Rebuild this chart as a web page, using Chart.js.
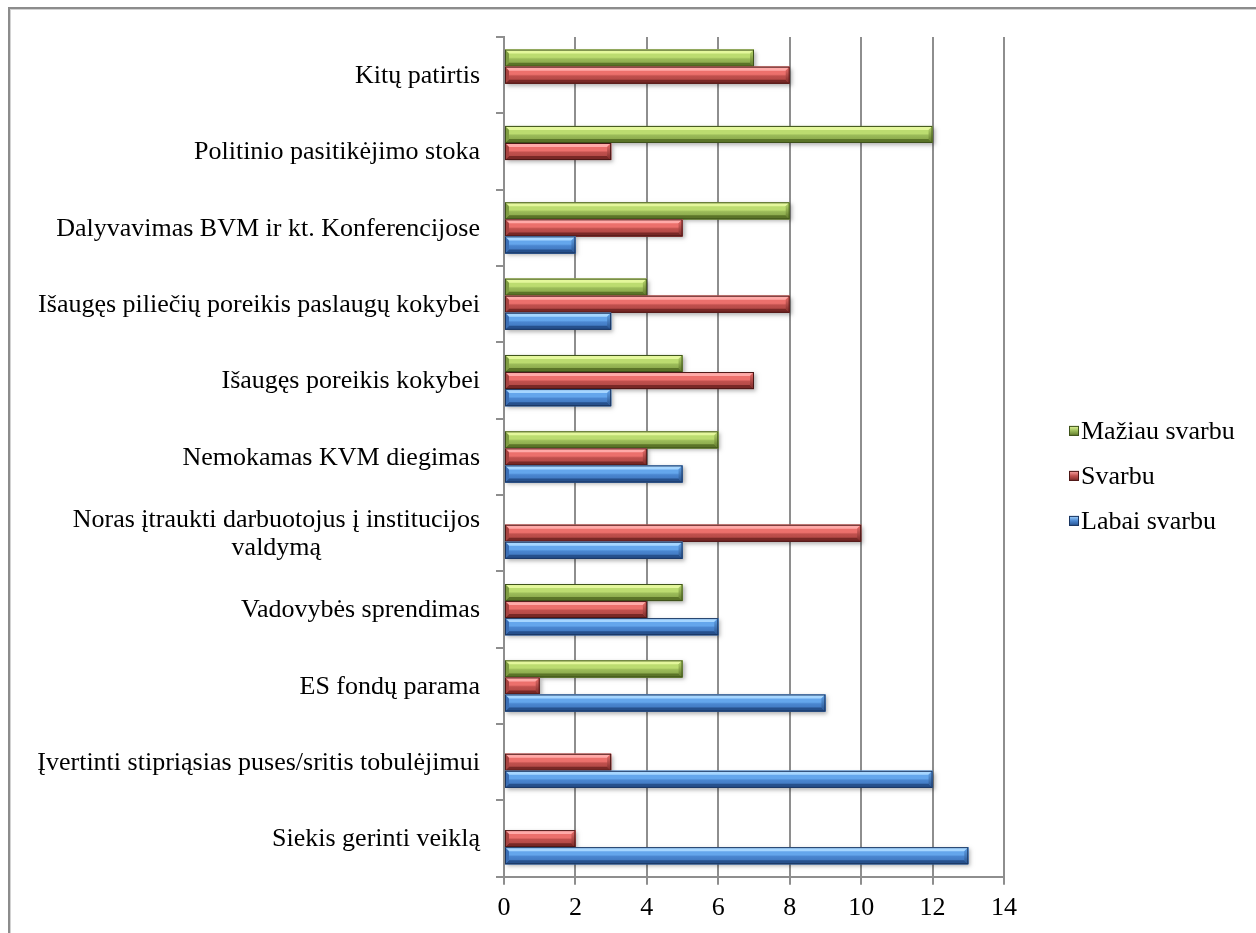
<!DOCTYPE html>
<html>
<head>
<meta charset="utf-8">
<script src="https://cdn.jsdelivr.net/npm/chart.js@4.4.0/dist/chart.umd.min.js"></script>
<style>
  html, body { margin: 0; padding: 0; background: #fff; overflow: hidden; }
  #frame {
    position: absolute; left: 8px; top: 7px; width: 1300px; height: 1000px;
    border-top: 2px solid #8c8c8c; border-left: 2px solid #8c8c8c;
    box-shadow: inset 1px 1px 0 #d2d2d2;
  }
  #chart { position: absolute; left: 0; top: 0; }
</style>
</head>
<body>
<div id="frame"></div>
<canvas id="chart" width="1256" height="933"></canvas>
<script>
// kategorijos iš viršaus į apačią
const categories = [
  'Kitų patirtis',
  'Politinio pasitikėjimo stoka',
  'Dalyvavimas BVM ir kt. Konferencijose',
  'Išaugęs piliečių poreikis paslaugų kokybei',
  'Išaugęs poreikis kokybei',
  'Nemokamas KVM diegimas',
  ['Noras įtraukti darbuotojus į institucijos', 'valdymą'],
  'Vadovybės sprendimas',
  'ES fondų parama',
  'Įvertinti stipriąsias puses/sritis tobulėjimui',
  'Siekis gerinti veiklą'
];
const seriesNames = ['Mažiau svarbu', 'Svarbu', 'Labai svarbu'];
const maziauSvarbu = [7, 12, 8, 4, 5, 6, 0, 5, 5, 0, 0];
const svarbu = [8, 3, 5, 8, 7, 4, 10, 4, 1, 3, 2];
const labaiSvarbu = [0, 0, 2, 3, 3, 5, 5, 6, 9, 12, 13];
const xTicks = [0, 2, 4, 6, 8, 10, 12, 14];

const FONT = "'Liberation Serif', 'Times New Roman', serif";
const gridColor = '#8e8e8e';

// spalvos: žalia, raudona, mėlyna
const palettes = [
  { hi: '#e4f79c', light: '#bcdc70', mid: '#9bbb59', dark: '#7f9c42', low: '#5b7428', edge: '#3e521b' },
  { hi: '#ffaaa8', light: '#ec706c', mid: '#c0504d', dark: '#a84340', low: '#782826', edge: '#4c1716' },
  { hi: '#a6d6ff', light: '#64a6ec', mid: '#4a86d0', dark: '#3b6fb6', low: '#26508c', edge: '#1a3560' }
];

function poly(ctx, pts, fill) {
  ctx.beginPath();
  ctx.moveTo(pts[0][0], pts[0][1]);
  for (let i = 1; i < pts.length; i++) ctx.lineTo(pts[i][0], pts[i][1]);
  ctx.closePath();
  ctx.fillStyle = fill;
  ctx.fill();
}

// stulpelis su nuožulniais kraštais
function drawBevelBar(ctx, x0, x1, y0, y1, p) {
  const w = x1 - x0, h = y1 - y0;
  if (w <= 0.5) return;
  const b = Math.min(4, w / 2, h / 3);

  ctx.save();
  ctx.shadowColor = 'rgba(0,0,0,0.3)';
  ctx.shadowBlur = 4;
  ctx.shadowOffsetX = 2;
  ctx.shadowOffsetY = 2;
  ctx.fillStyle = p.mid;
  ctx.fillRect(x0, y0, w, h);
  ctx.restore();

  const g = ctx.createLinearGradient(0, y0, 0, y1);
  g.addColorStop(0, p.light);
  g.addColorStop(0.45, p.light);
  g.addColorStop(0.55, p.mid);
  g.addColorStop(1, p.dark);
  ctx.fillStyle = g;
  ctx.fillRect(x0, y0, w, h);

  poly(ctx, [[x0, y0], [x1, y0], [x1 - b, y0 + b], [x0 + b, y0 + b]], p.hi);
  poly(ctx, [[x0, y1], [x1, y1], [x1 - b, y1 - b], [x0 + b, y1 - b]], p.low);
  const ge = ctx.createLinearGradient(0, y0, 0, y1);
  ge.addColorStop(0, p.light);
  ge.addColorStop(1, p.low);
  poly(ctx, [[x1, y0], [x1, y1], [x1 - b, y1 - b], [x1 - b, y0 + b]], ge);
  poly(ctx, [[x0, y0], [x0 + b, y0 + b], [x0 + b, y1 - b], [x0, y1]], p.dark);

  ctx.strokeStyle = p.edge;
  ctx.lineWidth = 1;
  ctx.strokeRect(x0 + 0.5, y0 + 0.5, w - 1, h - 1);
}

const bevelBars = {
  id: 'bevelBars',
  afterDatasetsDraw(chart) {
    const ctx = chart.ctx;
    chart.data.datasets.forEach((ds, i) => {
      const meta = chart.getDatasetMeta(i);
      meta.data.forEach(el => {
        const { x, y, base, height } = el.getProps(['x', 'y', 'base', 'height'], true);
        drawBevelBar(ctx, Math.min(base, x), Math.max(base, x), y - height / 2, y + height / 2, palettes[i]);
      });
    });
  }
};

// kategorijų pavadinimai, kelių eilučių centruojami
const categoryLabels = {
  id: 'categoryLabels',
  afterDraw(chart) {
    const ctx = chart.ctx;
    const yScale = chart.scales.y;
    const right = yScale.right - 8 - 16;
    ctx.save();
    ctx.font = '26px ' + FONT;
    ctx.fillStyle = '#000';
    ctx.textAlign = 'center';
    ctx.textBaseline = 'middle';
    categories.forEach((label, i) => {
      const lines = Array.isArray(label) ? label : [label];
      const lh = 28;
      const maxW = Math.max(...lines.map(l => ctx.measureText(l).width));
      const cx = right - maxW / 2;
      const cy = yScale.getPixelForTick(i) + 1;
      lines.forEach((l, k) => {
        ctx.fillText(l, cx, cy + (k - (lines.length - 1) / 2) * lh);
      });
    });
    ctx.restore();
  }
};

// legenda dešinėje
const sideLegend = {
  id: 'sideLegend',
  afterDraw(chart) {
    const ctx = chart.ctx;
    const area = chart.chartArea;
    const lx = area.right + 77;
    const firstBase = (area.top + area.bottom) / 2 - 18;
    ctx.save();
    ctx.font = '26px ' + FONT;
    ctx.textAlign = 'left';
    ctx.textBaseline = 'alphabetic';
    chart.data.datasets.forEach((ds, i) => {
      const p = palettes[i];
      const base = firstBase + i * 45;
      const bx = lx - 12, by = base - 13, s = 10;
      const g = ctx.createLinearGradient(0, by, 0, by + s);
      g.addColorStop(0, p.hi);
      g.addColorStop(0.5, p.mid);
      g.addColorStop(1, p.low);
      ctx.fillStyle = g;
      ctx.fillRect(bx, by, s, s);
      ctx.strokeStyle = p.edge;
      ctx.lineWidth = 1;
      ctx.strokeRect(bx + 0.5, by + 0.5, s - 1, s - 1);
      ctx.fillStyle = '#000';
      ctx.fillText(ds.label, lx, base);
    });
    ctx.restore();
  }
};

const ctx = document.getElementById('chart').getContext('2d');
const chart = new Chart(ctx, {
  type: 'bar',
  data: {
    labels: categories,
    datasets: [
      { label: seriesNames[0], data: maziauSvarbu, backgroundColor: palettes[0].mid },
      { label: seriesNames[1], data: svarbu, backgroundColor: palettes[1].mid },
      { label: seriesNames[2], data: labaiSvarbu, backgroundColor: palettes[2].mid }
    ]
  },
  options: {
    indexAxis: 'y',
    responsive: false,
    animation: false,
    devicePixelRatio: 1,
    layout: { padding: { top: 37, right: 252, bottom: 1, left: 0 } },
    datasets: { bar: { categoryPercentage: 0.67, barPercentage: 1, borderWidth: 0 } },
    plugins: { legend: { display: false }, tooltip: { enabled: false } },
    scales: {
      x: {
        min: 0,
        max: 14,
        afterBuildTicks: scale => { scale.ticks = xTicks.map(v => ({ value: v })); },
        grid: { color: gridColor, lineWidth: 2, tickLength: 8 },
        border: { color: gridColor, width: 2 },
        ticks: { color: '#000', font: { family: FONT, size: 26 }, padding: 8 }
      },
      y: {
        grid: { drawOnChartArea: false, offset: true, tickLength: 8, color: gridColor, lineWidth: 2 },
        border: { color: gridColor, width: 2 },
        ticks: { color: 'rgba(0,0,0,0)', font: { family: FONT, size: 26 }, padding: 16 },
        afterFit: scale => { scale.width = 504; }
      }
    }
  },
  plugins: [bevelBars, categoryLabels, sideLegend]
});
</script>
</body>
</html>
